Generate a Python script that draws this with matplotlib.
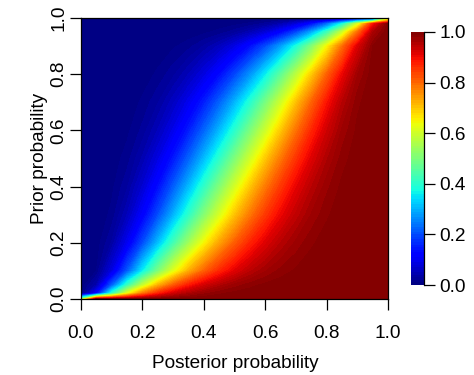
import matplotlib
matplotlib.use('Agg')
import matplotlib.pyplot as plt
import numpy as np

plt.rcParams['font.family'] = ['Liberation Sans', 'DejaVu Sans']

# grid
posterior = [0.0, 0.05, 0.10, 0.15, 0.20, 0.25, 0.30, 0.35, 0.40, 0.45, 0.50,
             0.55, 0.60, 0.65, 0.70, 0.75, 0.80, 0.85, 0.90, 0.95, 1.0]
prior = [0.0, 0.02, 0.05, 0.1, 0.2, 0.3, 0.4, 0.5, 0.6, 0.7, 0.8, 0.9, 0.95, 0.98, 1.0]

# one row per prior value, one column per posterior value
values = [
    [0.5, 1, 1, 1, 1, 1, 1, 1, 1, 1, 1, 1, 1, 1, 1, 1, 1, 1, 1, 1, 1],
    [0, .119, .403, .630, .779, .870, .925, .958, .977, .988, .994, .997, .999, 1, 1, 1, 1, 1, 1, 1, 1],
    [0, .041, .209, .409, .581, .714, .810, .878, .924, .954, .974, .986, .993, .997, .999, 1, 1, 1, 1, 1, 1],
    [0, .010, .083, .210, .356, .496, .619, .722, .804, .867, .913, .947, .969, .984, .992, .997, .999, 1, 1, 1, 1],
    [0, .003, .031, .098, .196, .309, .427, .540, .644, .734, .809, .870, .916, .950, .973, .988, .996, .999, 1, 1, 1],
    [0, .001, .013, .050, .114, .198, .297, .402, .508, .608, .700, .781, .849, .903, .943, .971, .988, .997, .9995, 1, 1],
    [0, 0, .007, .028, .071, .133, .213, .305, .404, .504, .604, .696, .779, .850, .907, .949, .977, .993, .999, 1, 1],
    [0, 0, .003, .015, .042, .085, .145, .219, .306, .401, .500, .599, .694, .781, .855, .915, .958, .985, .997, 1, 1],
    [0, 0, .001, .007, .023, .051, .093, .150, .221, .304, .396, .496, .596, .695, .787, .867, .929, .972, .993, 1, 1],
    [0, 0, .0005, .003, .012, .029, .057, .097, .151, .219, .300, .392, .492, .598, .703, .802, .886, .950, .987, .999, 1],
    [0, 0, 0, .001, .004, .012, .027, .050, .084, .130, .191, .266, .356, .460, .573, .691, .804, .902, .969, .997, 1],
    [0, 0, 0, 0, .001, .003, .008, .016, .031, .053, .087, .133, .196, .278, .381, .504, .644, .790, .917, .990, 1],
    [0, 0, 0, 0, 0, 0, .001, .003, .007, .014, .026, .046, .076, .122, .190, .286, .419, .591, .791, .959, 1],
    [0, 0, 0, 0, 0, 0, 0, 0, .001, .003, .006, .012, .023, .042, .075, .130, .221, .370, .597, .881, 1],
    [0, 0, 0, 0, 0, 0, 0, 0, 0, 0, 0, 0, 0, 0, 0, 0, 0, 0, 0, 0, 0.5],
]

tick_vals = [0.0, 0.2, 0.4, 0.6, 0.8, 1.0]
tick_labels = ['0.0', '0.2', '0.4', '0.6', '0.8', '1.0']

fig = plt.figure(figsize=(4.74, 3.75), dpi=100)
ax = fig.add_axes([81/474, 76/375, 307/474, 281/375])
cax = fig.add_axes([411/474, 90/375, 13/474, 253/375])

levels = np.linspace(0, 1, 101)
cf = ax.contourf(posterior, prior, np.array(values), levels=levels, cmap='jet')

ax.set_xlim(0, 1)
ax.set_ylim(0, 1)
ax.set_xticks(tick_vals)
ax.set_xticklabels(tick_labels)
ax.set_yticks(tick_vals)
ax.set_yticklabels(tick_labels, rotation=90, va='center')
ax.tick_params(direction='out', length=8, width=0.9, labelsize=13.7)
ax.tick_params(axis='x', pad=11)
ax.tick_params(axis='y', pad=2)
for s in ax.spines.values():
    s.set_linewidth(0.9)

fig.text(235/474, 1 - 363/375, 'Posterior probability', ha='center', va='center', fontsize=13.7)
fig.text(39/474, 1 - 158/375, 'Prior probability', ha='center', va='center',
         rotation=90, fontsize=13.7)

cb = fig.colorbar(cf, cax=cax, ticks=tick_vals)
cb.outline.set_visible(False)
cb.ax.set_yticklabels(tick_labels)
cb.ax.tick_params(direction='out', length=8, width=0.9, labelsize=13.7, pad=3)
cax.plot([1, 1], [0, 1], transform=cax.transAxes, color='black', lw=0.9, clip_on=False)

fig.savefig('out.png', dpi=100)
